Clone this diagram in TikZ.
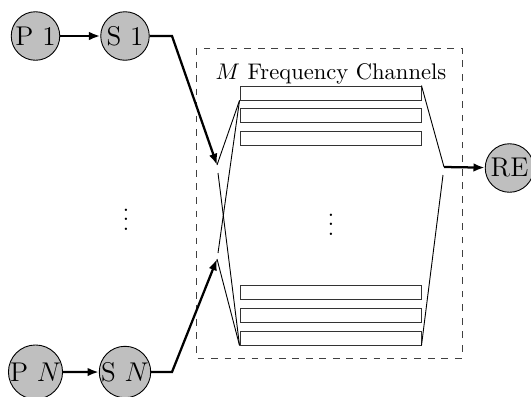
\documentclass[tikz,border=0pt]{standalone}
\usepackage{amsmath}
\usepackage{tikz}
\usetikzlibrary{arrows.meta}

\begin{document}
\begin{tikzpicture}[scale=0.1557]
\tikzstyle{user}=[circle,draw=black,fill=gray!50,inner sep=0pt,minimum size=21.5pt,font=\large]
\tikzstyle{chan}=[rectangle,draw=black!80,inner sep=0pt,minimum width=80.2pt,minimum height=6.2pt]
\tikzstyle{link}=[black,line width=1pt,-{Latex[length=5pt,width=3.8pt]}]
\useasboundingbox (0,0) rectangle (53.1,-39.6);
\node [user] (p1) at (3.55,-3.6) {P 1};
\node [user] (s1) at (12.5,-3.6) {S 1};
\node [user] (pn) at (3.55,-37.2) {P $N$};
\node [user] (sn) at (12.5,-37.2) {S $N$};
\node [user] (re) at (50.95,-16.8) {RE};
\node (dots1) at (12.6,-21.3) {$\vdots$};
\draw [black!75,dashed] (19.6,-4.8) rectangle (46.2,-35.8);
\node (title) at (33.1,-7.4) {$M$ Frequency Channels};
\node [chan] (c1) at (33.05,-9.3) {};
\node [chan] (c2) at (33.05,-11.55) {};
\node [chan] (c3) at (33.05,-13.85) {};
\node [chan] (c4) at (33.05,-29.25) {};
\node [chan] (c5) at (33.05,-31.55) {};
\node [chan] (cm) at (33.05,-33.8) {};
\node (dots2) at (33.1,-21.8) {$\vdots$};
\coordinate (k1) at (17.2,-3.6);
\coordinate (kn) at (17.2,-37.2);
\coordinate (in1) at (21.7,-16.5);
\coordinate (in1b) at (21.8,-17.3);
\coordinate (inn) at (21.7,-25.9);
\coordinate (innb) at (21.8,-25.3);
\coordinate (out) at (44.4,-16.7);
\coordinate (outb) at (44.3,-17.5);
\draw [link] (p1) -- (s1);
\draw [link] (pn) -- (sn);
\draw [link] (s1.east) -- (k1) -- (in1);
\draw [link] (sn.east) -- (kn) -- (inn);
\draw [black] (in1) -- (c1.south west);
\draw [black] (in1b) -- (cm.south west);
\draw [black] (inn) -- (cm.south west);
\draw [black] (innb) -- (c1.south west);
\draw [black] (c1.north east) -- (out);
\draw [black] (cm.south east) -- (outb);
\draw [link] (out) -- (re);
\end{tikzpicture}
\end{document}
